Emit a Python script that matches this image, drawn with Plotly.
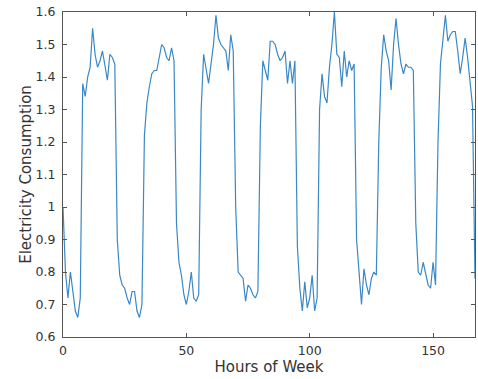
import plotly.graph_objects as go

hours = list(range(168))

day0 = [1.00, 0.80, 0.72, 0.80, 0.74, 0.68, 0.66, 0.72, 1.38, 1.34, 1.40, 1.43,
        1.55, 1.47, 1.43, 1.45, 1.48, 1.44, 1.39, 1.47, 1.46, 1.44, 0.90, 0.79]
day1 = [0.76, 0.75, 0.72, 0.70, 0.74, 0.74, 0.68, 0.66, 0.70, 1.22, 1.32, 1.37,
        1.41, 1.42, 1.42, 1.46, 1.50, 1.49, 1.46, 1.45, 1.49, 1.45, 0.95, 0.83]
day2 = [0.79, 0.73, 0.70, 0.74, 0.80, 0.72, 0.71, 0.73, 1.30, 1.47, 1.42, 1.38,
        1.44, 1.50, 1.59, 1.52, 1.50, 1.49, 1.48, 1.42, 1.53, 1.48, 1.00, 0.80]
day3 = [0.79, 0.78, 0.71, 0.76, 0.75, 0.73, 0.72, 0.74, 1.25, 1.45, 1.42, 1.39,
        1.51, 1.51, 1.50, 1.47, 1.45, 1.46, 1.48, 1.38, 1.45, 1.38, 1.45, 0.88]
day4 = [0.75, 0.68, 0.77, 0.69, 0.72, 0.79, 0.68, 0.72, 1.30, 1.41, 1.34, 1.32,
        1.43, 1.50, 1.60, 1.47, 1.46, 1.37, 1.48, 1.40, 1.45, 1.42, 1.44, 0.90]
day5 = [0.80, 0.70, 0.81, 0.76, 0.73, 0.78, 0.80, 0.79, 1.20, 1.43, 1.53, 1.48,
        1.45, 1.36, 1.50, 1.58, 1.50, 1.44, 1.41, 1.44, 1.43, 1.43, 1.42, 0.95]
day6 = [0.80, 0.79, 0.83, 0.79, 0.76, 0.75, 0.83, 0.76, 1.20, 1.44, 1.51, 1.59,
        1.51, 1.53, 1.54, 1.54, 1.48, 1.41, 1.46, 1.52, 1.46, 1.38, 1.31, 0.78]

consumption = day0 + day1 + day2 + day3 + day4 + day5 + day6

x_ticks = [0, 50, 100, 150]
y_ticks = [0.6, 0.7, 0.8, 0.9, 1.0, 1.1, 1.2, 1.3, 1.4, 1.5, 1.6]
y_labels = ["0.6", "0.7", "0.8", "0.9", "1", "1.1", "1.2", "1.3", "1.4", "1.5", "1.6"]

fig = go.Figure()
fig.add_trace(go.Scatter(x=hours, y=consumption, mode="lines",
                         line=dict(color="#3a88c6", width=1.2),
                         showlegend=False, hoverinfo="skip"))

tick_font = dict(family="DejaVu Sans", size=12.5, color="#333")
title_font = dict(family="DejaVu Sans", size=15, color="#333")

axis_common = dict(showline=True, linecolor="#555", linewidth=1, mirror="ticks",
                   ticks="inside", ticklen=4, tickcolor="#555", showgrid=False,
                   zeroline=False, tickfont=tick_font, automargin=False)

fig.update_layout(
    width=478, height=379,
    margin=dict(l=63, r=3, t=12, b=42),
    paper_bgcolor="white", plot_bgcolor="white",
    font=dict(family="DejaVu Sans", size=12, color="#333"),
    xaxis=dict(range=[0, 167], tickvals=x_ticks, ticklabelstandoff=2,
               title=dict(text="Hours of Week", standoff=2, font=title_font),
               **axis_common),
    yaxis=dict(range=[0.6, 1.6], tickvals=y_ticks, ticktext=y_labels,
               ticklabelstandoff=4,
               title=dict(text="Electricity Consumption", standoff=0, font=title_font),
               **axis_common),
)

post = ("document.body.style.margin='0';document.body.style.overflow='hidden';"
        "var gd=document.getElementById('{plot_id}');"
        "Plotly.relayout(gd,{width:478,height:379});")

fig.write_html("out.html", config={"responsive": False, "displayModeBar": False},
               post_script=post)
